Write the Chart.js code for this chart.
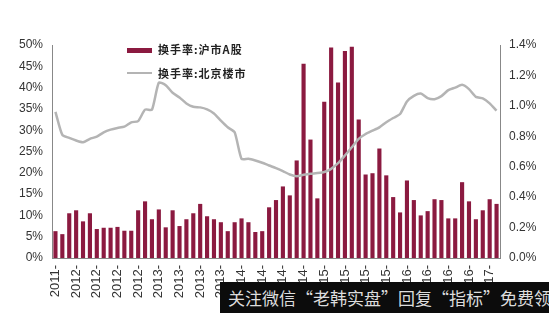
<!DOCTYPE html>
<html>
<head>
<meta charset="utf-8">
<script src="https://cdn.jsdelivr.net/npm/chart.js@4.4.0/dist/chart.umd.min.js"></script>
<style>
  body { margin: 0; background: #fff; }
  #wrap { position: relative; width: 549px; height: 313px; overflow: hidden; }
  .legend { position: absolute; left: 127px; font: bold 11px "Noto Sans CJK SC", sans-serif; color: #222; letter-spacing: 1px; }
  .legend span.sw { position: absolute; left: 0; }
  .legend span.tx { position: absolute; left: 31px; white-space: nowrap; }
  #mark { position: absolute; left: 220px; top: 282px; width: 329px; height: 31px; background: #0c0c0c;
          color: #ddd; font: 17px "Noto Sans CJK SC", sans-serif; white-space: nowrap; line-height: 31px; padding-left: 8px; box-sizing: border-box; }
</style>
</head>
<body>
<div id="wrap">
  <canvas id="c" width="549" height="313"></canvas>
  <div class="legend" style="top:41px">
    <span class="sw" style="top:7px;width:25px;height:5px;background:#8b1a40"></span>
    <span class="tx">换手率:沪市A股</span>
  </div>
  <div class="legend" style="top:65px">
    <span class="sw" style="top:7px;width:25px;height:2px;background:#b4b4b4"></span>
    <span class="tx">换手率:北京楼市</span>
  </div>
  <div id="mark">关注微信“老韩实盘”回复“指标”免费领</div>
</div>
<script>
// monthly, 2011-12 .. 2017-04
const months = [];
for (let y = 2011, m = 12; months.length < 65; m++) {
    if (m > 12) { m = 1; y++; }
    months.push(y + '-' + String(m).padStart(2, '0'));
}

// 换手率:沪市A股 (%)
const shTurnover = [
    6.3, 5.6, 10.5, 11.2, 8.6, 10.5, 6.8, 7.1, 7.1, 7.3,
    6.4, 6.4, 11.2, 13.3, 9.1, 11.4, 7.2, 11.2, 7.5, 9.1,
    10.5, 12.7, 9.8, 9.1, 8.4, 6.3, 8.4, 9.3, 8.4, 6.1,
    6.3, 11.9, 13.6, 16.8, 14.7, 22.9, 45.6, 27.8, 14.0, 36.7,
    49.4, 41.2, 48.6, 49.6, 32.5, 19.6, 19.9, 25.7, 19.4, 14.3,
    10.7, 18.2, 13.6, 10.0, 11.0, 13.8, 13.6, 9.3, 9.3, 17.8,
    13.3, 9.1, 11.2, 13.8, 12.7
];

// 换手率:北京楼市 (%)
const bjTurnover = [
    0.961, 0.809, 0.789, 0.772, 0.761, 0.783, 0.798, 0.826, 0.844, 0.855,
    0.863, 0.892, 0.900, 0.975, 0.975, 1.153, 1.136, 1.086, 1.055, 1.016,
    0.994, 0.990, 0.977, 0.950, 0.903, 0.859, 0.826, 0.652, 0.652, 0.641,
    0.626, 0.608, 0.591, 0.571, 0.549, 0.538, 0.547, 0.554, 0.558, 0.565,
    0.586, 0.623, 0.674, 0.728, 0.783, 0.815, 0.837, 0.859, 0.892, 0.920,
    0.946, 1.029, 1.066, 1.081, 1.051, 1.044, 1.064, 1.103, 1.120, 1.138,
    1.110, 1.059, 1.049, 1.016, 0.968
];

const tickFont = { family: 'Liberation Sans, Arial, sans-serif', size: 12 };

new Chart(document.getElementById('c'), {
    data: {
        labels: months,
        datasets: [
            {
                type: 'line',
                label: '换手率:北京楼市',
                data: bjTurnover,
                yAxisID: 'y2',
                borderColor: '#b4b4b4',
                borderWidth: 2.5,
                pointRadius: 0,
                tension: 0.2
            },
            {
                type: 'bar',
                label: '换手率:沪市A股',
                data: shTurnover,
                yAxisID: 'y',
                backgroundColor: '#8b1a40',
                barPercentage: 0.6,
                categoryPercentage: 1
            }
        ]
    },
    options: {
        responsive: false,
        animation: false,
        layout: { padding: { top: 45, right: 0, left: 0, bottom: 0 } },
        plugins: { legend: { display: false }, tooltip: { enabled: false } },
        scales: {
            x: {
                offset: true,
                grid: { display: false, drawTicks: true, tickLength: 4, color: '#888' },
                border: { color: '#888' },
                ticks: {
                    autoSkip: false,
                    maxRotation: 90, minRotation: 90,
                    color: '#333', font: { family: 'Liberation Sans, Arial, sans-serif', size: 13 }, padding: 3,
                    callback: (v, i) => i % 3 === 0 ? months[i].slice(0, 5) : ''
                },
                afterFit: a => { a.height = 55; }
            },
            y: {
                position: 'left',
                min: 0, max: 50,
                grid: { display: false, drawTicks: true, tickLength: 5, color: '#888' },
                border: { color: '#888' },
                ticks: { stepSize: 5, color: '#333', font: tickFont, padding: 4, callback: v => v + '%' },
                afterFit: a => { a.width = 52; }
            },
            y2: {
                position: 'right',
                min: 0, max: 1.4,
                grid: { display: false, drawTicks: true, tickLength: 5, color: '#888' },
                border: { color: '#888' },
                ticks: { stepSize: 0.2, color: '#333', font: tickFont, padding: 4, callback: v => v.toFixed(1) + '%' },
                afterFit: a => { a.width = 49; }
            }
        }
    }
});
</script>
</body>
</html>
